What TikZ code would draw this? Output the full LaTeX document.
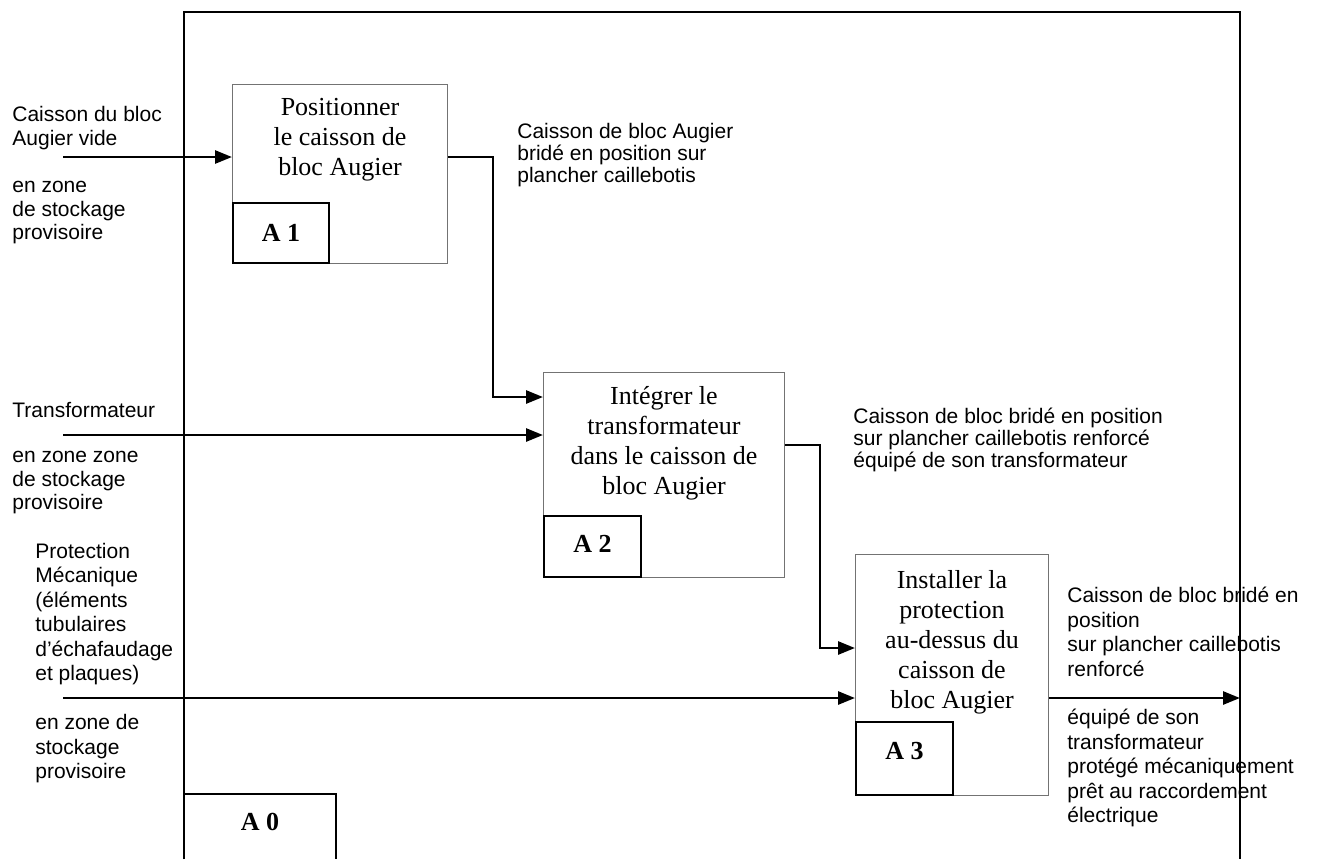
\documentclass[tikz,border=0pt]{standalone}
\usepackage{fontspec}
\setmainfont{Liberation Serif}
\setsansfont{Liberation Sans}
\usetikzlibrary{arrows.meta,positioning,calc}
\tikzset{
  proc/.style={draw=black!55,line width=0.5pt,anchor=north west,inner sep=0pt},
  num/.style={draw,line width=1pt,anchor=south west,inner sep=0pt,
              font=\fontsize{13}{15}\selectfont\bfseries},
  ttl/.style={align=center,inner sep=0pt,font=\fontsize{13}{15}\selectfont},
  lbl/.style={align=left,anchor=west,inner sep=0pt,
              font=\sffamily\fontsize{10.5}{11.75}\selectfont},
  lbltight/.style={lbl,font=\sffamily\fontsize{10.5}{11}\selectfont},
  lblwide/.style={lbl,font=\sffamily\fontsize{10.5}{12.25}\selectfont},
  arr/.style={-{Triangle[length=8.5pt,width=6.5pt]},line width=1.35pt},
  frm/.style={line width=1.2pt}
}

\begin{document}
\begin{tikzpicture}[x=0.5pt,y=-0.5pt]
  \useasboundingbox (0,0) rectangle (1319,859);
  % frame A0
  \coordinate (fr) at (1240,12);
  \draw[frm] (184,859) |- (fr) -- (1240,859);
  \draw[frm] (184,859) |- (336,794) -- (336,859);
  \node[inner sep=0pt,font=\fontsize{13}{15}\selectfont\bfseries] (a0) at (260,822) {A 0};
  % activities
  \node[proc,minimum width=107.5pt,minimum height=89.5pt] (a1) at (232,84) {};
  \node[proc,minimum width=120.5pt,minimum height=102.5pt] (a2) at (543,372) {};
  \node[proc,minimum width=96.5pt,minimum height=120.5pt] (a3) at (855,554) {};
  \node[num,minimum width=48pt,minimum height=30pt] (n1) at (a1.south west) {A 1};
  \node[num,minimum width=48.5pt,minimum height=30.5pt,text depth=3pt] (n2) at (a2.south west) {A 2};
  \node[num,minimum width=48.5pt,minimum height=36.5pt,text depth=8pt] (n3) at (a3.south west) {A 3};
  \node[ttl] (t1) at (340,140) {Positionner\\le caisson de\\bloc Augier};
  \node[ttl] (t2) at (664,443) {Intégrer le\\transformateur\\dans le caisson de\\bloc Augier};
  \node[ttl] (t3) at (952,642) {Installer la\\protection\\au-dessus du\\caisson de\\bloc Augier};
  % inputs
  \node[lbl] (in1) at (12,128) {Caisson du bloc\\Augier vide};
  \node[lbl] (in1z) at (12,213) {en zone\\de stockage\\provisoire};
  \node[lbl] (in2) at (12,410) {Transformateur};
  \node[lbl] (in2z) at (12,483) {en zone zone\\de stockage\\provisoire};
  \node[lblwide] (in3) at (35,614) {Protection\\Mécanique\\(éléments\\tubulaires\\d’échafaudage\\et plaques)};
  \node[lblwide] (in3z) at (35,749) {en zone de\\stockage\\provisoire};
  % outputs
  \node[lbltight] (out1) at (517,155) {Caisson de bloc Augier\\bridé en position sur\\plancher caillebotis};
  \node[lbltight] (out2) at (853,440) {Caisson de bloc bridé en position\\sur plancher caillebotis renforcé\\équipé de son transformateur};
  \node[lblwide] (out3) at (1067,632) {Caisson de bloc bridé en\\position\\sur plancher caillebotis\\renforcé};
  \node[lblwide] (out3z) at (1067,768) {équipé de son\\transformateur\\protégé mécaniquement\\prêt au raccordement\\électrique};
  % flows
  \coordinate (i1) at (63,157);
  \coordinate (i2) at (63,435);
  \coordinate (i3) at (63,698);
  \coordinate (j1) at (493,397);
  \coordinate (k2) at (820,445);
  \coordinate (j2) at (820,648);
  \draw[arr] (i1) -- (i1 -| a1.west);
  \draw[arr] (i1 -| a1.east) -| (j1) -- (j1 -| a2.west);
  \draw[arr] (i2) -- (i2 -| a2.west);
  \draw[arr] (k2 -| a2.east) -- (k2) -- (j2) -- (j2 -| a3.west);
  \draw[arr] (i3) -- (i3 -| a3.west);
  \draw[arr] (i3 -| a3.east) -- (i3 -| fr);
\end{tikzpicture}
\end{document}
